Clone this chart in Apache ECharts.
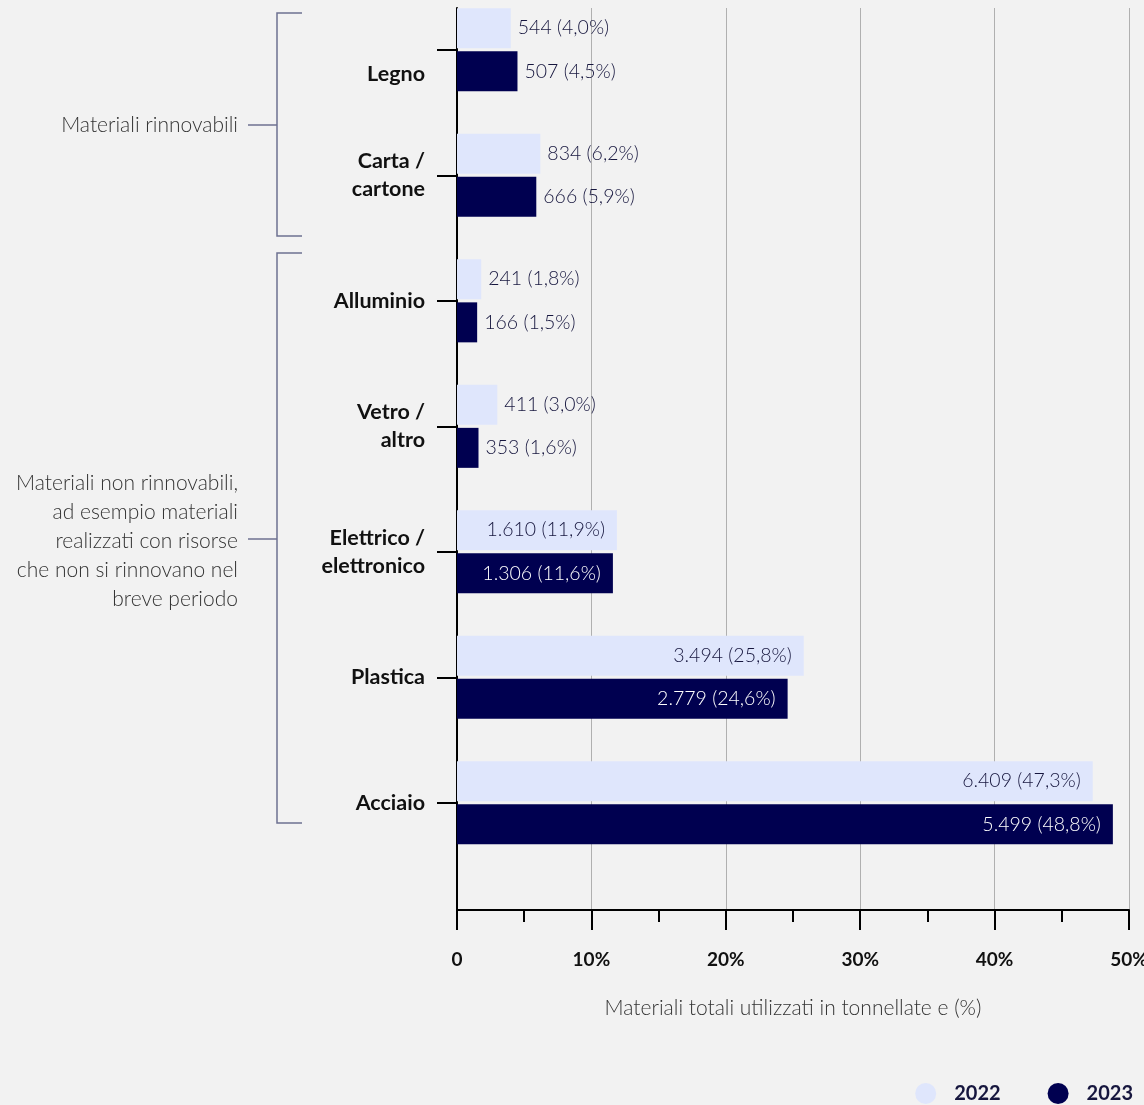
<!DOCTYPE html>
<html>
<head>
<meta charset="utf-8">
<script src="https://cdn.jsdelivr.net/npm/echarts@6/dist/echarts.min.js"></script>
<style>
html,body{margin:0;padding:0;background:#f2f2f2;}
#chart{width:1144px;height:1105px;}
</style>
</head>
<body>
<div id="chart"></div>
<script>
const categories = ['Legno', 'Carta /\ncartone', 'Alluminio', 'Vetro /\naltro', 'Elettrico /\nelettronico', 'Plastica', 'Acciaio'];
const tonnes2022 = [544, 834, 241, 411, 1610, 3494, 6409];
const pct2022 = [4.0, 6.2, 1.8, 3.0, 11.9, 25.8, 47.3];
const tonnes2023 = [507, 666, 166, 353, 1306, 2779, 5499];
const pct2023 = [4.5, 5.9, 1.5, 1.6, 11.6, 24.6, 48.8];
const xTicks = [0, 10, 20, 30, 40, 50];
const seriesNames = ['2022', '2023'];

const FONT = 'Lato';
const NAVY = '#000050';
const LIGHT = '#dfe6fc';
const TEXT = '#16163e';
const BRACKET = '#6e7191';

function fmtT(n){ return String(n).replace(/\B(?=(\d{3})+(?!\d))/g, '.'); }
function fmtP(p){ return p.toFixed(1).replace('.', ','); }

function buildData(pcts, insideColor){
  return pcts.map(p => ({
    value: p,
    label: p > 10
      ? {position: 'insideRight', distance: 12, color: insideColor}
      : {position: 'right', distance: 7, color: TEXT}
  }));
}

const chart = echarts.init(document.getElementById('chart'), null, {renderer: 'canvas'});

const option = {
  backgroundColor: '#f2f2f2',
  animation: false,
  textStyle: {fontFamily: FONT},
  grid: [
    {left: 457, right: 15, top: 8, bottom: 195, containLabel: false, outerBoundsMode: 'none'},
    {left: 457, right: 15, top: -13, bottom: 239.5, containLabel: false, outerBoundsMode: 'none'}
  ],
  xAxis: [
    {
      gridIndex: 0, type: 'value', min: 0, max: 50, interval: 10,
      axisLine: {show: true, lineStyle: {color: '#000', width: 2}},
      axisTick: {show: true, length: 20, lineStyle: {color: '#000', width: 2}},
      minorTick: {show: true, splitNumber: 2, length: 12, lineStyle: {color: '#000', width: 2}},
      splitLine: {show: true, lineStyle: {color: '#b0b0b0', width: 1}},
      axisLabel: {
        margin: 40, fontFamily: FONT, fontSize: 19, fontWeight: 'bold', color: '#111',
        formatter: v => xTicks.indexOf(v) >= 0 ? (v === 0 ? '0' : v + '%') : ''
      },
      name: 'Materiali totali utilizzati in tonnellate e (%)',
      nameLocation: 'middle', nameGap: 88,
      nameTextStyle: {fontFamily: FONT, fontSize: 21, fontWeight: 300, color: '#333'}
    },
    {
      gridIndex: 1, type: 'value', min: 0, max: 50, interval: 10, show: false
    }
  ],
  yAxis: [
    {
      gridIndex: 0, type: 'value', min: 0, max: 1,
      axisLine: {show: true, onZero: false, lineStyle: {color: '#000', width: 2}},
      axisTick: {show: false}, axisLabel: {show: false}, splitLine: {show: false}
    },
    {
      gridIndex: 1, type: 'category', inverse: true, data: categories,
      axisLine: {show: false},
      axisTick: {show: true, alignWithLabel: true, length: 20, lineStyle: {color: '#000', width: 2}},
      splitLine: {show: false},
      axisLabel: {
        margin: 32, fontFamily: FONT, fontSize: 21.5, fontWeight: 'bold', color: '#111', lineHeight: 28, align: 'right',
        formatter: (v, i) => i === 0 ? '{low|' + v + '}' : v,
        rich: {low: {fontFamily: FONT, fontSize: 21.5, fontWeight: 'bold', color: '#111', padding: [49, 0, 0, 0]}}
      }
    }
  ],
  legend: {
    right: 6, top: 1078,
    itemWidth: 21, itemHeight: 21, itemGap: 47,
    icon: 'circle',
    textStyle: {fontFamily: FONT, fontSize: 20, fontWeight: 'bold', color: TEXT, padding: [0, 0, 0, 13]},
    data: seriesNames
  },
  series: [
    {
      name: seriesNames[0], type: 'bar', xAxisIndex: 1, yAxisIndex: 1, barWidth: 40, barGap: '8%',
      itemStyle: {color: LIGHT},
      label: {
        show: true, fontFamily: FONT, fontSize: 19.5, fontWeight: 300,
        formatter: p => fmtT(tonnes2022[p.dataIndex]) + ' (' + fmtP(pct2022[p.dataIndex]) + '%)'
      },
      data: buildData(pct2022, TEXT)
    },
    {
      name: seriesNames[1], type: 'bar', xAxisIndex: 1, yAxisIndex: 1, barWidth: 40, barGap: '8%',
      itemStyle: {color: NAVY},
      label: {
        show: true, fontFamily: FONT, fontSize: 19.5, fontWeight: 300,
        formatter: p => fmtT(tonnes2023[p.dataIndex]) + ' (' + fmtP(pct2023[p.dataIndex]) + '%)'
      },
      data: buildData(pct2023, '#ffffff')
    }
  ],
  graphic: [
    {type: 'polyline', shape: {points: [[302, 13], [277, 13], [277, 236], [302, 236]]}, style: {stroke: BRACKET, lineWidth: 1.5, fill: null}},
    {type: 'line', shape: {x1: 248, y1: 125, x2: 277, y2: 125}, style: {stroke: BRACKET, lineWidth: 1.5}},
    {type: 'text', x: 238, y: 125, style: {text: 'Materiali rinnovabili', align: 'right', verticalAlign: 'middle', font: '300 21px Lato', fill: '#333'}},
    {type: 'polyline', shape: {points: [[302, 253], [277, 253], [277, 823], [302, 823]]}, style: {stroke: BRACKET, lineWidth: 1.5, fill: null}},
    {type: 'line', shape: {x1: 248, y1: 539, x2: 277, y2: 539}, style: {stroke: BRACKET, lineWidth: 1.5}},
    {type: 'text', x: 238, y: 541, style: {
      text: 'Materiali non rinnovabili,\nad esempio materiali\nrealizzati con risorse\nche non si rinnovano nel\nbreve periodo',
      align: 'right', verticalAlign: 'middle', font: '300 21px Lato', lineHeight: 29, fill: '#333'}}
  ]
};
chart.setOption(option);
</script>
</body>
</html>
